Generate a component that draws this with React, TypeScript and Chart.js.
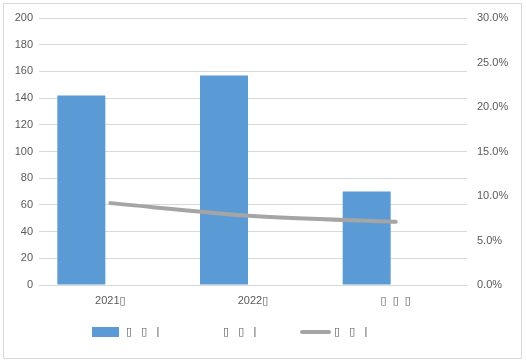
import React, { useEffect, useRef } from "react";
import { Chart, registerables } from "chart.js";

Chart.register(...registerables);

// ---- data ----
const categories = ["2021▯", "2022▯", "▯  ▯  ▯"];
const barValues = [142, 157, 70];
const emptyBarValues: (number | null)[] = [null, null, null];
const lineValues = [0.092, 0.0775, 0.071];
const seriesNames = ["▯   ▯   |", "▯   ▯   |", "▯   ▯   |"];
const leftMax = 200;
const leftStep = 20;
const rightMax = 0.3;
const rightStep = 0.05;

const BAR_COLOR = "#5b9bd5";
const LINE_COLOR = "#a5a5a5";
const GRID_COLOR = "#d9d9d9";
const TEXT_COLOR = "#595959";
const FONT_FAMILY = "'Liberation Sans', 'DejaVu Sans', sans-serif";

const framePlugin = {
  id: "frame",
  beforeDraw(chart: any) {
    const { ctx, width, height } = chart;
    ctx.save();
    ctx.fillStyle = "#ffffff";
    ctx.fillRect(0, 0, width, height);
    ctx.strokeStyle = GRID_COLOR;
    ctx.lineWidth = 1;
    ctx.strokeRect(3.5, 3.5, width - 8, height - 7);
    ctx.restore();
  },
};

const legendPlugin = {
  id: "customLegend",
  afterDraw(chart: any) {
    const { ctx } = chart;
    const starts = [92, 189, 300];
    const y = 332;
    ctx.save();
    ctx.font = `11px ${FONT_FAMILY}`;
    ctx.fillStyle = TEXT_COLOR;
    ctx.textBaseline = "middle";
    chart.data.datasets.forEach((ds: any, i: number) => {
      const x = starts[i];
      if (ds.type === "line") {
        ctx.save();
        ctx.strokeStyle = ds.borderColor;
        ctx.lineWidth = ds.borderWidth;
        ctx.lineCap = "round";
        ctx.beginPath();
        ctx.moveTo(x + 2, y);
        ctx.lineTo(x + 29, y);
        ctx.stroke();
        ctx.restore();
      } else if (ds.backgroundColor && ds.backgroundColor !== "transparent") {
        ctx.save();
        ctx.fillStyle = ds.backgroundColor;
        ctx.fillRect(x, y - 5, 27, 10);
        ctx.restore();
      }
      ctx.fillStyle = TEXT_COLOR;
      ctx.fillText(ds.label, x + 34, y);
    });
    ctx.restore();
  },
};

export default function App() {
  const ref = useRef<HTMLCanvasElement | null>(null);

  useEffect(() => {
    if (!ref.current) return;
    const chart = new Chart(ref.current, {
      type: "bar",
      data: {
        labels: categories,
        datasets: [
          {
            type: "bar",
            label: seriesNames[0],
            data: barValues,
            backgroundColor: BAR_COLOR,
            yAxisID: "y",
            order: 2,
            categoryPercentage: 0.813,
            barPercentage: 0.828,
          } as any,
          {
            type: "bar",
            label: seriesNames[1],
            data: emptyBarValues,
            backgroundColor: "transparent",
            yAxisID: "y",
            order: 3,
            categoryPercentage: 0.813,
            barPercentage: 0.828,
          } as any,
          {
            type: "line",
            label: seriesNames[2],
            data: lineValues,
            borderColor: LINE_COLOR,
            backgroundColor: LINE_COLOR,
            borderWidth: 4,
            borderCapStyle: "round",
            pointRadius: 0,
            tension: 0.3,
            yAxisID: "y1",
            order: 1,
          } as any,
        ],
      },
      options: {
        animation: false,
        responsive: false,
        maintainAspectRatio: false,
        layout: { padding: { top: 18, bottom: 47, left: 0, right: 0 } },
        plugins: {
          legend: { display: false },
          tooltip: { enabled: false },
        },
        scales: {
          x: {
            offset: true,
            grid: { display: false, drawTicks: false },
            border: { display: true, color: GRID_COLOR },
            ticks: {
              color: TEXT_COLOR,
              font: { family: FONT_FAMILY, size: 11 },
              padding: 9,
              maxRotation: 0,
            },
            afterFit(scale: any) {
              scale.height = 30;
            },
          },
          y: {
            position: "left",
            min: 0,
            max: leftMax,
            grid: { color: GRID_COLOR, drawTicks: false },
            border: { display: false },
            ticks: {
              stepSize: leftStep,
              color: TEXT_COLOR,
              font: { family: FONT_FAMILY, size: 11 },
              padding: 6,
            },
            afterFit(scale: any) {
              scale.width = 39;
            },
          },
          y1: {
            position: "right",
            min: 0,
            max: rightMax,
            grid: { display: false, drawTicks: false },
            border: { display: false },
            ticks: {
              stepSize: rightStep,
              color: TEXT_COLOR,
              font: { family: FONT_FAMILY, size: 11 },
              padding: 10,
              callback: (v: any) => (Number(v) * 100).toFixed(1) + "%",
            },
            afterFit(scale: any) {
              scale.width = 59;
            },
          },
        },
      },
      plugins: [framePlugin, legendPlugin],
    });
    return () => chart.destroy();
  }, []);

  return (
    <div style={{ position: "fixed", left: 0, top: 0, width: 526, height: 362 }}>
      <canvas ref={ref} width={526} height={362} style={{ width: 526, height: 362, display: "block" }} />
    </div>
  );
}
